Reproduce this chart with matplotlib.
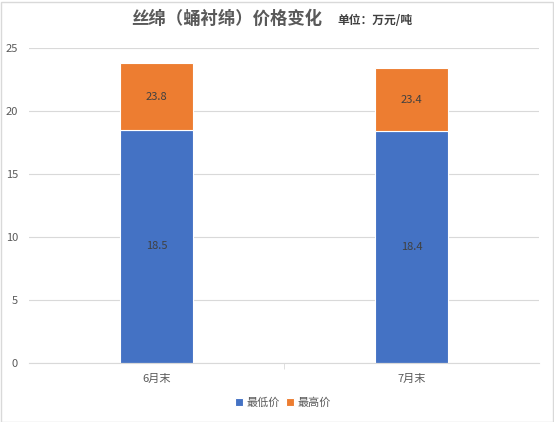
import matplotlib
matplotlib.use("Agg")
import matplotlib.pyplot as plt
from matplotlib.patches import Rectangle
import numpy as np

plt.rcParams['font.family'] = ['Noto Sans CJK SC', 'DejaVu Sans']

categories = ["6月末", "7月末"]
low_price = [18.5, 18.4]
high_price = [23.8, 23.4]

blue = "#4472C4"
orange = "#ED7D31"
grid_c = "#D9D9D9"
text_c = "#595959"

fig = plt.figure(figsize=(5.54, 4.22), dpi=100)
ax = fig.add_axes([29 / 554, (422 - 363) / 422, (539 - 29) / 554, 315 / 422])

x = np.arange(len(categories))
diff = [h - l for h, l in zip(high_price, low_price)]
b1 = ax.bar(x, low_price, width=0.285, color=blue, edgecolor="white", linewidth=0.8, label="最低价")
b2 = ax.bar(x, diff, bottom=low_price, width=0.285, color=orange, edgecolor="white", linewidth=0.8, label="最高价")

for i in range(len(categories)):
    ax.text(x[i], low_price[i] / 2, "{:.1f}".format(low_price[i]), ha="center", va="center",
            fontsize=8, color="#404040")
    ax.text(x[i], low_price[i] + diff[i] / 2, "{:.1f}".format(high_price[i]), ha="center", va="center",
            fontsize=8, color="#404040")

ax.set_xlim(-0.5, 1.5)
ax.set_ylim(0, 25)
ax.set_yticks([0, 5, 10, 15, 20, 25])
ax.set_xticks(x)
ax.set_xticklabels(categories)
ax.set_xticks([0.5], minor=True)
ax.yaxis.grid(True, color=grid_c, linewidth=0.8)
ax.set_axisbelow(True)
for s in ["top", "right", "left"]:
    ax.spines[s].set_visible(False)
ax.spines["bottom"].set_color(grid_c)
ax.tick_params(axis="y", length=0, labelsize=8, labelcolor=text_c, pad=8)
ax.tick_params(axis="x", which="major", length=0, labelsize=8, labelcolor=text_c, pad=8)
ax.tick_params(axis="x", which="minor", length=4, color=grid_c)

fig.text(227 / 554, 1 - 19 / 422, "丝绵（蛹衬绵）价格变化", ha="center", va="center",
         fontsize=12.5, fontweight="bold", color=text_c)
fig.text(337 / 554, 1 - 20 / 422, "单位：万元/吨", ha="left", va="center",
         fontsize=8.5, fontweight="bold", color="#404040")

leg = fig.legend(handles=[b1, b2], loc="center", bbox_to_anchor=(283 / 554, 1 - 403 / 422),
                 ncol=2, frameon=False, fontsize=8, handlelength=0.7, handleheight=0.7,
                 handletextpad=0.3, columnspacing=0.6)
for t in leg.get_texts():
    t.set_color(text_c)

fig.patches.append(Rectangle((0.5 / 554, 0.5 / 422), 552 / 554, 420 / 422, transform=fig.transFigure,
                             fill=False, edgecolor=grid_c, linewidth=1))

fig.savefig("out.png", dpi=100)
